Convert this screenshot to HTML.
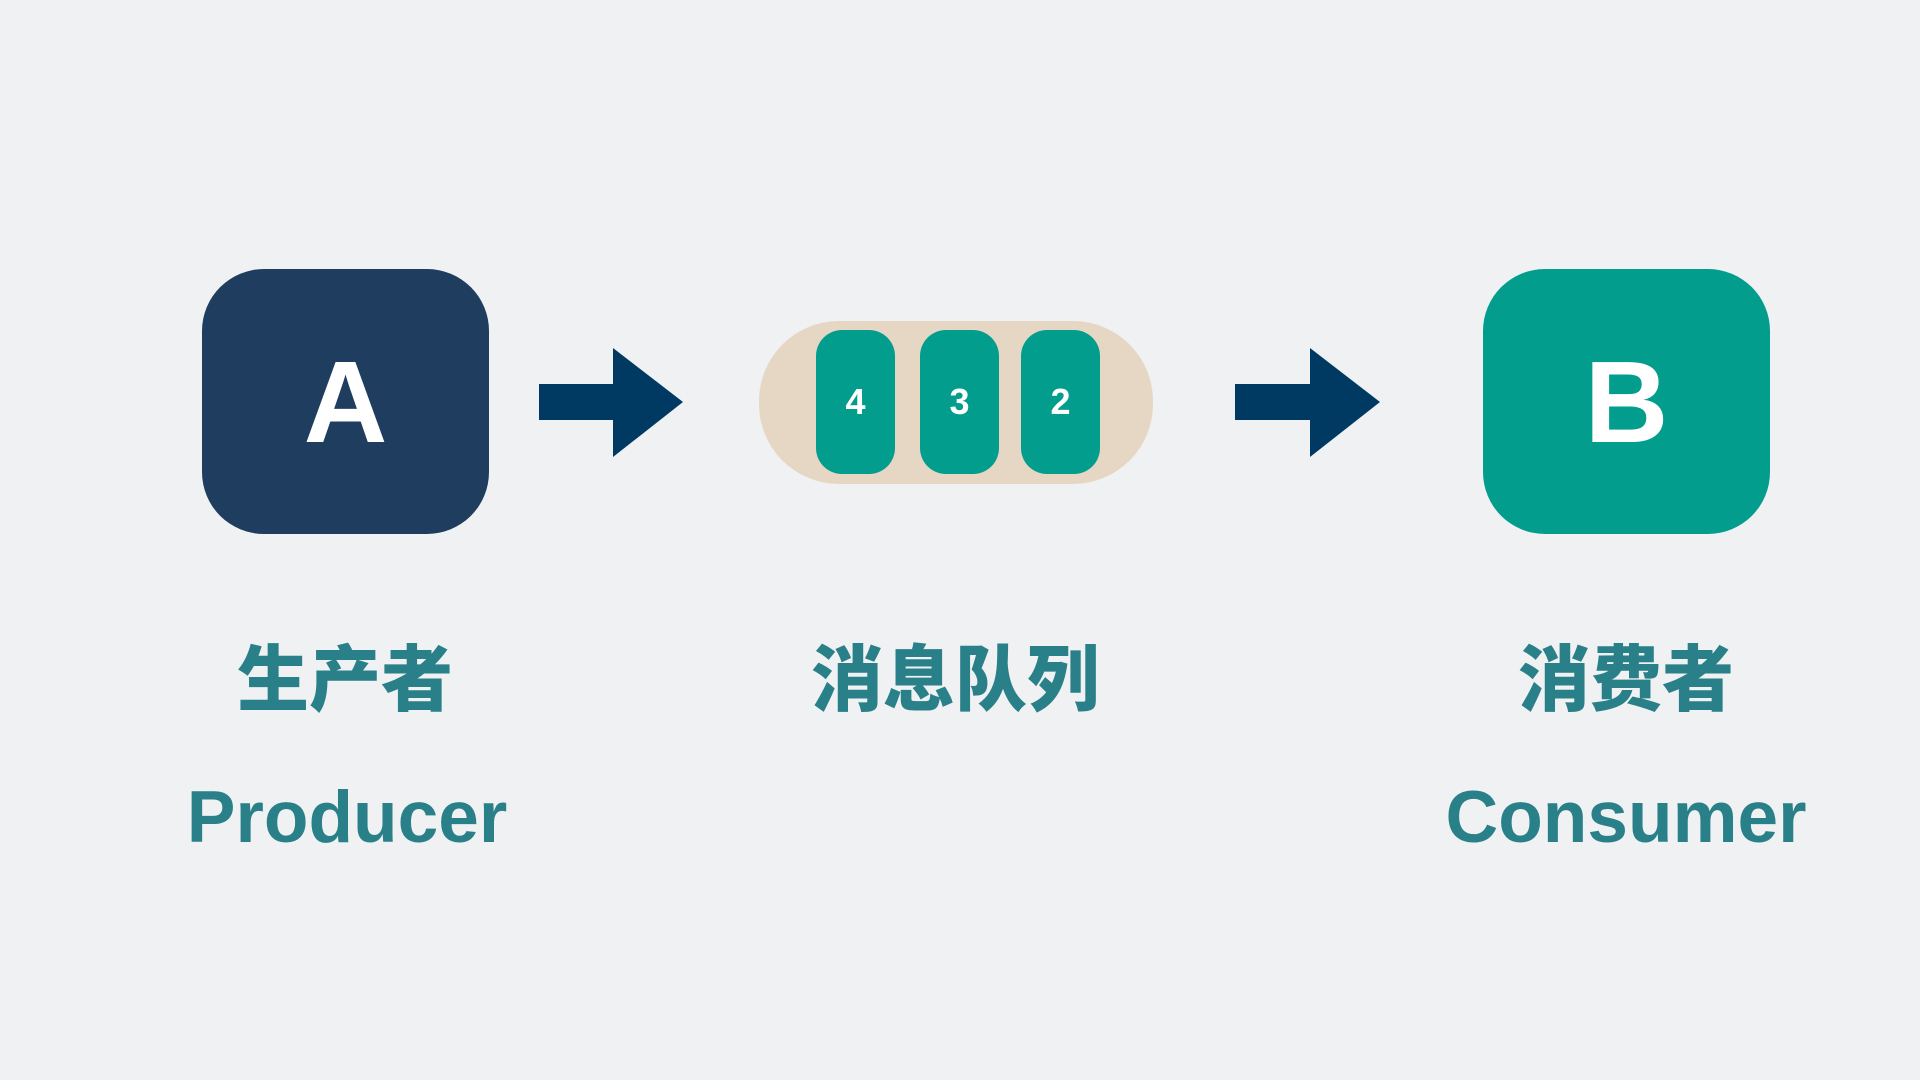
<!DOCTYPE html>
<html><head><meta charset="utf-8"><style>
html,body{margin:0;padding:0}
body{width:1920px;height:1080px;background:#eff1f3;position:relative;overflow:hidden;font-family:"Liberation Sans","Noto Sans CJK SC",sans-serif}
.abs{position:absolute}
.box{position:absolute;top:269px;width:287px;height:265px;border-radius:62px;display:flex;align-items:center;justify-content:center;color:#fff;font-weight:bold;font-size:116px}
.cell{position:absolute;top:330px;width:79px;height:144px;border-radius:26px;background:#039d8e;color:#fff;font-weight:bold;font-size:36px;display:flex;align-items:center;justify-content:center}
.lbl{position:absolute;width:600px;text-align:center;color:#2a8088;font-weight:bold}
.cn{font-family:"Noto Sans CJK SC","WenQuanYi Zen Hei",sans-serif;font-weight:900;font-size:72px;line-height:72px;top:638px}
.en{font-size:73px;line-height:76px;top:780px}
</style></head><body>
<div class="box" style="left:202px;background:#1f3d5f">A</div>
<div class="box" style="left:1483px;background:#039d8e">B</div>
<svg class="abs" style="left:0;top:0" width="1920" height="1080">
<polygon points="539,384 613,384 613,348 683,402 613,457 613,420 539,420" fill="#003a63"/>
<polygon points="1235,384 1310,384 1310,348 1380,402 1310,457 1310,420 1235,420" fill="#003a63"/>
</svg>
<div class="abs" style="left:759px;top:321px;width:394px;height:163px;border-radius:80px;background:#e6d7c4"></div>
<div class="cell" style="left:816px">4</div>
<div class="cell" style="left:920px">3</div>
<div class="cell" style="left:1021px">2</div>
<div class="lbl cn" style="left:45px">生产者</div>
<div class="lbl cn" style="left:655px">消息队列</div>
<div class="lbl cn" style="left:1326px">消费者</div>
<div class="lbl en" style="left:47px">Producer</div>
<div class="lbl en" style="left:1326px">Consumer</div>
</body></html>
